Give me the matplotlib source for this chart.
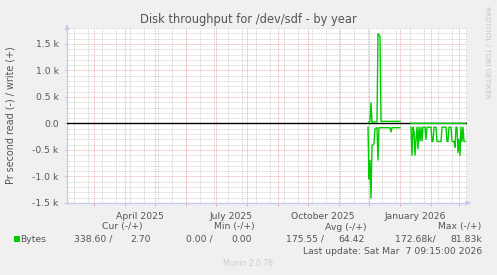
import matplotlib
matplotlib.use('Agg')
import matplotlib.pyplot as plt
import matplotlib.dates as mdates
import matplotlib.transforms as mtransforms
import numpy as np
import pandas as pd

# ---------------- data ----------------
seg1_start = '2025-11-30'   # daily values
write_seg1 = [10, 30, 40, 390, 20, 25, 25, 30, 30, 30, 1690, 1670, 1640,
              40, 40, 40, 40, 40, 40, 40, 40, 40, 40, 40, 40, 40, 40, 40, 40, 40, 40, 40, 40]
read_seg1 = [70, 1050, 700, 1410, 410, 400, 380, 100, 90, 80, 690, 80,
             80, 80, 80, 80, 80, 80, 80, 80, 80, 80, 80, 160,
             80, 80, 80, 80, 80, 80, 80, 80, 80]
seg2_start = '2026-01-12'
write_seg2 = [3, 2, 3, 3, 2, 3, 3, 3, 2, 3, 3, 3, 2, 3, 3, 3, 3, 2, 3, 3,
              3, 2, 3, 3, 3, 3, 2, 3, 3, 3, 2, 3, 3, 3, 3, 2, 3, 3, 3, 3,
              2, 3, 3, 3, 2, 3, 3, 3, 3, 2, 3, 3, 3, 3, 2.7]
read_seg2 = [70, 600, 70, 150, 600, 300, 70, 480, 70, 330, 70, 330, 70, 70, 70,
             300, 70, 70, 70, 70, 70, 340, 340, 70, 70, 70, 340, 340, 340, 340,
             340, 70, 70, 70, 70, 70, 340, 340, 70, 70, 70, 340, 340, 340, 450,
             70, 70, 550, 300, 600, 70, 340, 70, 340, 338.6]

x_start = '2025-02-02'
x_end = '2026-03-09'
ytick_vals = [-1500, -1000, -500, 0, 500, 1000, 1500]
ytick_labels = ['-1.5 k', '-1.0 k', '-0.5 k', '0.0', '0.5 k', '1.0 k', '1.5 k']
xlabel_months = ['2025-04-01', '2025-07-01', '2025-10-01', '2026-01-01']
xlabel_texts = ['April 2025', 'July 2025', 'October 2025', 'January 2026']

legend_headers = ['Cur (-/+)', 'Min (-/+)', 'Avg (-/+)', 'Max (-/+)']
legend_read = ['338.60 /', '0.00 /', '175.55 /', '172.68k/']
legend_write = ['2.70', '0.00', '64.42', '81.83k']

# ---------------- figure ----------------
W, H = 497, 275
fig = plt.figure(figsize=(W / 100, H / 100), dpi=100, facecolor='#F0F0F0')
ax = fig.add_axes([67 / W, 1 - 203 / H, 400 / W, 175 / H])
ax.set_facecolor('#FFFFFF')

TXT = '#555555'
GREEN = '#00CC00'
MAJ = '#E8A0A0'
MIN = '#C8C8C8'

t1 = pd.date_range(seg1_start, periods=len(write_seg1), freq='D')
t2 = pd.date_range(seg2_start, periods=len(write_seg2), freq='D')

xmin = mdates.date2num(pd.Timestamp(x_start))
xmax = mdates.date2num(pd.Timestamp(x_end))
ax.set_xlim(xmin, xmax)
ax.set_ylim(-1500, 1800)

# grid
for v in np.arange(-1500, 1801, 100):
    if v % 500 == 0:
        continue
    ax.axhline(v, color=MIN, lw=0.6, ls=(0, (1, 1)), zorder=1)
for v in ytick_vals:
    ax.axhline(v, color=MAJ, lw=0.6, ls=(0, (1, 1)), zorder=1)
minor_days = pd.date_range('2025-02-09', x_end, freq='14D')
for d in minor_days:
    ax.axvline(mdates.date2num(d), color=MIN, lw=0.6, ls=(0, (1, 1)), zorder=1)
month_days = pd.date_range('2025-03-01', x_end, freq='MS')
for d in month_days:
    ax.axvline(mdates.date2num(d), color=MAJ, lw=0.6, ls=(0, (1, 1)), zorder=1)

# zero line
ax.axhline(0, color='black', lw=1.0, zorder=3)

# data
ax.plot(mdates.date2num(t1), write_seg1, color=GREEN, lw=1.0, zorder=4)
ax.plot(mdates.date2num(t1), [-v for v in read_seg1], color=GREEN, lw=1.0, zorder=4)
ax.plot(mdates.date2num(t2), write_seg2, color=GREEN, lw=1.0, zorder=4)
ax.plot(mdates.date2num(t2), [-v for v in read_seg2], color=GREEN, lw=1.0, zorder=4)

# axes spines
for s in ['top', 'right']:
    ax.spines[s].set_visible(False)
for s in ['left', 'bottom']:
    ax.spines[s].set_color('#C8C8F0')
    ax.spines[s].set_linewidth(1.0)

# arrows
ax.annotate('', xy=(0, 1.035), xytext=(0, 0.99), xycoords='axes fraction',
            arrowprops=dict(arrowstyle='-|>', color='#C8C8F0', lw=0.8, mutation_scale=7),
            annotation_clip=False)
ax.annotate('', xy=(1.017, 0), xytext=(0.995, 0), xycoords='axes fraction',
            arrowprops=dict(arrowstyle='-|>', color='#C8C8F0', lw=0.8, mutation_scale=7),
            annotation_clip=False)

# ticks
ax.set_yticks(ytick_vals)
ax.set_yticklabels(ytick_labels)
ax.tick_params(axis='y', length=2, width=0.6, color=MIN, labelsize=6.7,
               labelcolor=TXT, pad=4)
ax.set_xticks([mdates.date2num(d) for d in month_days])
ax.set_xticklabels([])
ax.tick_params(axis='x', length=2, width=0.6, color=MAJ)

trans = mtransforms.blended_transform_factory(ax.transData, ax.transAxes)
for m, lab in zip(xlabel_months, xlabel_texts):
    mid = mdates.date2num(pd.Timestamp(m)) + 15
    ax.text(mid, -0.05, lab, transform=trans, ha='center', va='top',
            fontsize=6.7, color=TXT)

# title and labels
fig.text(248 / W, 1 - 20 / H, 'Disk throughput for /dev/sdf - by year',
         ha='center', va='center', fontsize=8.3, color=TXT)
fig.text(11 / W, 1 - 115 / H, 'Pr second read (-) / write (+)', rotation=90,
         ha='center', va='center', fontsize=6.9, color=TXT)
fig.text(487 / W, 1 - 52 / H, 'RRDTOOL / TOBI OETIKER', rotation=270,
         ha='center', va='center', fontsize=5.2, color='#C4C4C4')

# legend
def ftxt(x, y, s, ha='right', **kw):
    fig.text(x / W, 1 - y / H, s, ha=ha, va='center', fontsize=6.7, color=TXT, **kw)

hdr_x = [122, 234, 346, 460]
for x, s in zip(hdr_x, legend_headers):
    ftxt(x, 227, s, ha='center')
read_x = [112, 213, 324, 436]
write_x = [151, 252, 365, 482]
for x, s in zip(read_x, legend_read):
    ftxt(x, 239, s)
for x, s in zip(write_x, legend_write):
    ftxt(x, 239, s)
fig.patches.append(plt.Rectangle((14 / W, 1 - 242 / H), 6 / W, 6 / H,
                                 transform=fig.transFigure, facecolor=GREEN,
                                 edgecolor='none'))
ftxt(20, 239, 'Bytes', ha='left')
ftxt(482, 251, 'Last update: Sat Mar  7 09:15:00 2026')
fig.text(248 / W, 1 - 263 / H, 'Munin 2.0.76', ha='center', va='center',
         fontsize=5.5, color='#CCCCCC')

fig.savefig('out.png', dpi=100, facecolor=fig.get_facecolor())
